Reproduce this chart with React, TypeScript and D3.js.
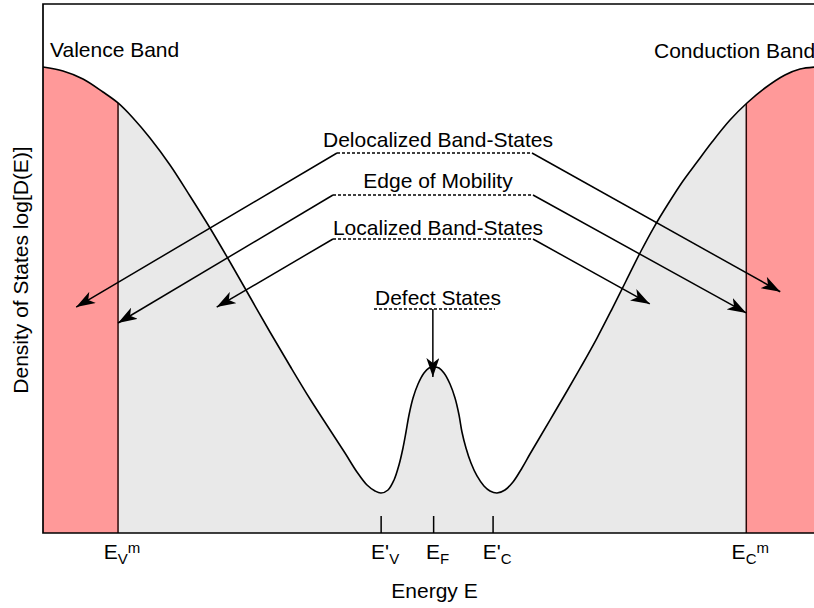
import React from "react";
import * as d3 from "d3";

// Density-of-states profile of a disordered semiconductor (arbitrary units)
const energy = [
  0.0, 2.59, 5.18, 7.77, 9.72, 11.66, 13.86, 16.45, 19.04, 21.63, 24.22, 26.81, 29.4, 32.0,
  34.59, 37.18, 39.12, 40.67, 41.97, 43.01, 43.78,
  44.69, 45.47, 46.11, 46.63, 47.02, 47.41, 47.93, 48.58, 49.35, 50.0, 50.65, 51.3, 51.94,
  52.72, 53.37, 53.89, 54.27, 54.79, 55.44, 56.22, 57.12, 57.9, 58.81,
  59.84, 60.88, 62.05, 63.08, 64.38, 66.06, 67.88, 69.82, 71.76, 73.7, 75.52, 77.33, 79.15,
  80.96, 82.9, 84.72, 86.66, 88.99, 91.19, 93.52, 96.11, 98.06, 100.0,
];
const logDos = [
  88.09, 87.33, 85.82, 83.36, 81.29, 78.45, 74.67, 69.57, 63.71, 57.66, 51.23, 44.61, 38.0,
  31.57, 25.33, 19.47, 15.12, 11.53, 9.07, 7.94, 7.56,
  8.13, 10.02, 12.85, 16.07, 19.09, 22.31, 25.52, 28.17, 30.25, 31.19, 31.38, 31.19, 30.25,
  28.17, 25.52, 22.31, 19.09, 16.07, 13.23, 10.78, 8.88, 7.94, 7.56,
  8.13, 9.64, 12.29, 14.93, 18.15, 22.31, 26.84, 31.76, 36.86, 42.34, 47.64, 52.93, 57.84,
  62.19, 66.54, 70.13, 73.91, 78.07, 81.29, 84.12, 86.58, 87.71, 88.09,
];

// Mobility edges E_V^m and E_C^m
const mobilityEdges = [9.72, 91.1];

// Energy markers along the axis
const markerEnergies = [9.72, 43.8, 50.6, 58.3, 91.1];
const markerBase = ["E", "E'", "E", "E'", "E"];
const markerSub = ["V", "V", "F", "C", "C"];
const markerSup = ["m", "", "", "", "m"];
const markerHasTick = [false, true, true, true, false];

// Annotation texts and the states they point to (energy, logDos)
const annotationTexts = ["Delocalized Band-States", "Edge of Mobility", "Localized Band-States", "Defect States"];
const annotationTargets: [number, number][][] = [
  [[4.3, 42.7], [95.5, 45.6]],
  [[9.72, 39.7], [91.1, 41.6]],
  [[22.5, 42.7], [78.6, 43.3]],
  [[50.5, 29.5]],
];

// Layout of the annotation labels (pixels)
const annotationLayout = [
  { baseline: 147, lineY: 153, x0: 337, x1: 532 },
  { baseline: 188, lineY: 195, x0: 333, x1: 533 },
  { baseline: 235, lineY: 239, x0: 333, x1: 533 },
  { baseline: 305, lineY: 309, x0: 374, x1: 495 },
];

const W = 814;
const H = 608;
const left = 43;
const right = 815;
const top = 4;
const bottom = 533;
const font = "'Liberation Sans', Arial, Helvetica, sans-serif";
const fs = 21;

export default function App() {
  const x = d3.scaleLinear().domain([0, 100]).range([left, right]);
  const y = d3.scaleLinear().domain([0, 100]).range([bottom, top]);

  const pts: [number, number][] = energy.map((e, i) => [e, logDos[i]]);
  const curve = d3.curveCatmullRom.alpha(0.5);
  const area = d3
    .area<[number, number]>()
    .x((d) => x(d[0]))
    .y0(y(0))
    .y1((d) => y(d[1]))
    .curve(curve);
  const line = d3
    .line<[number, number]>()
    .x((d) => x(d[0]))
    .y((d) => y(d[1]))
    .curve(curve);

  const areaPath = area(pts) || "";
  const linePath = line(pts) || "";
  const cx = 438;

  return (
    <svg
      width={W}
      height={H}
      style={{ position: "absolute", left: 0, top: 0, background: "#fff" }}
      fontFamily={font}
    >
      <defs>
        <clipPath id="under-curve">
          <path d={areaPath} />
        </clipPath>
        <marker
          id="head"
          viewBox="0 0 19 13"
          refX={19}
          refY={6.5}
          markerWidth={19}
          markerHeight={13}
          markerUnits="userSpaceOnUse"
          orient="auto"
        >
          <path d="M0,0 L19,6.5 L0,13 L5,6.5 Z" fill="#000" />
        </marker>
      </defs>

      {/* states under the curve */}
      <path d={areaPath} fill="#e9e9e9" />
      <g clipPath="url(#under-curve)">
        <rect x={x(0)} y={top} width={x(mobilityEdges[0]) - x(0)} height={bottom - top} fill="#ff9999" />
        <rect
          x={x(mobilityEdges[1])}
          y={top}
          width={x(100) - x(mobilityEdges[1])}
          height={bottom - top}
          fill="#ff9999"
        />
        {mobilityEdges.map((e, i) => (
          <line key={i} x1={x(e)} x2={x(e)} y1={top} y2={bottom} stroke="#2a0808" strokeWidth={1.5} />
        ))}
      </g>
      <path d={linePath} fill="none" stroke="#000" strokeWidth={1.6} />

      {/* frame */}
      <path
        d={`M${W},${top}H${left}V${bottom}H${W}`}
        fill="none"
        stroke="#000"
        strokeWidth={1.7}
      />

      {/* energy markers */}
      {markerEnergies.map((e, i) => (
        <g key={i}>
          {markerHasTick[i] && (
            <line x1={x(e)} x2={x(e)} y1={bottom} y2={bottom - 17} stroke="#000" strokeWidth={1.5} />
          )}
          <text x={x(e) + 4} y={559} textAnchor="middle" fontSize={fs} fill="#000">
            {markerBase[i]}
            <tspan fontSize={15} dy={5}>
              {markerSub[i]}
            </tspan>
            {markerSup[i] && (
              <tspan fontSize={15} dy={-11}>
                {markerSup[i]}
              </tspan>
            )}
          </text>
        </g>
      ))}

      {/* band names */}
      <text x={50} y={57} fontSize={fs} fill="#000">
        Valence Band
      </text>
      <text x={654} y={58} fontSize={fs} fill="#000">
        Conduction Band
      </text>

      {/* annotations */}
      {annotationTexts.map((t, i) => {
        const L = annotationLayout[i];
        const targets = annotationTargets[i];
        return (
          <g key={i}>
            <text x={cx} y={L.baseline} textAnchor="middle" fontSize={fs} fill="#000">
              {t}
            </text>
            <line
              x1={L.x0}
              x2={L.x1}
              y1={L.lineY}
              y2={L.lineY}
              stroke="#000"
              strokeWidth={1.3}
              strokeDasharray="3 2"
            />
            {targets.length === 2 ? (
              <>
                <line
                  x1={L.x0}
                  y1={L.lineY}
                  x2={x(targets[0][0])}
                  y2={y(targets[0][1])}
                  stroke="#000"
                  strokeWidth={1.5}
                  markerEnd="url(#head)"
                />
                <line
                  x1={L.x1}
                  y1={L.lineY}
                  x2={x(targets[1][0])}
                  y2={y(targets[1][1])}
                  stroke="#000"
                  strokeWidth={1.5}
                  markerEnd="url(#head)"
                />
              </>
            ) : (
              <line
                x1={x(targets[0][0])}
                y1={L.lineY}
                x2={x(targets[0][0])}
                y2={y(targets[0][1])}
                stroke="#000"
                strokeWidth={1.5}
                markerEnd="url(#head)"
              />
            )}
          </g>
        );
      })}

      {/* axis titles */}
      <text
        transform={`translate(28,270) rotate(-90)`}
        textAnchor="middle"
        fontSize={fs}
        fill="#000"
      >
        Density of States log[D(E)]
      </text>
      <text x={434.5} y={598} textAnchor="middle" fontSize={fs} fill="#000">
        Energy E
      </text>
    </svg>
  );
}
